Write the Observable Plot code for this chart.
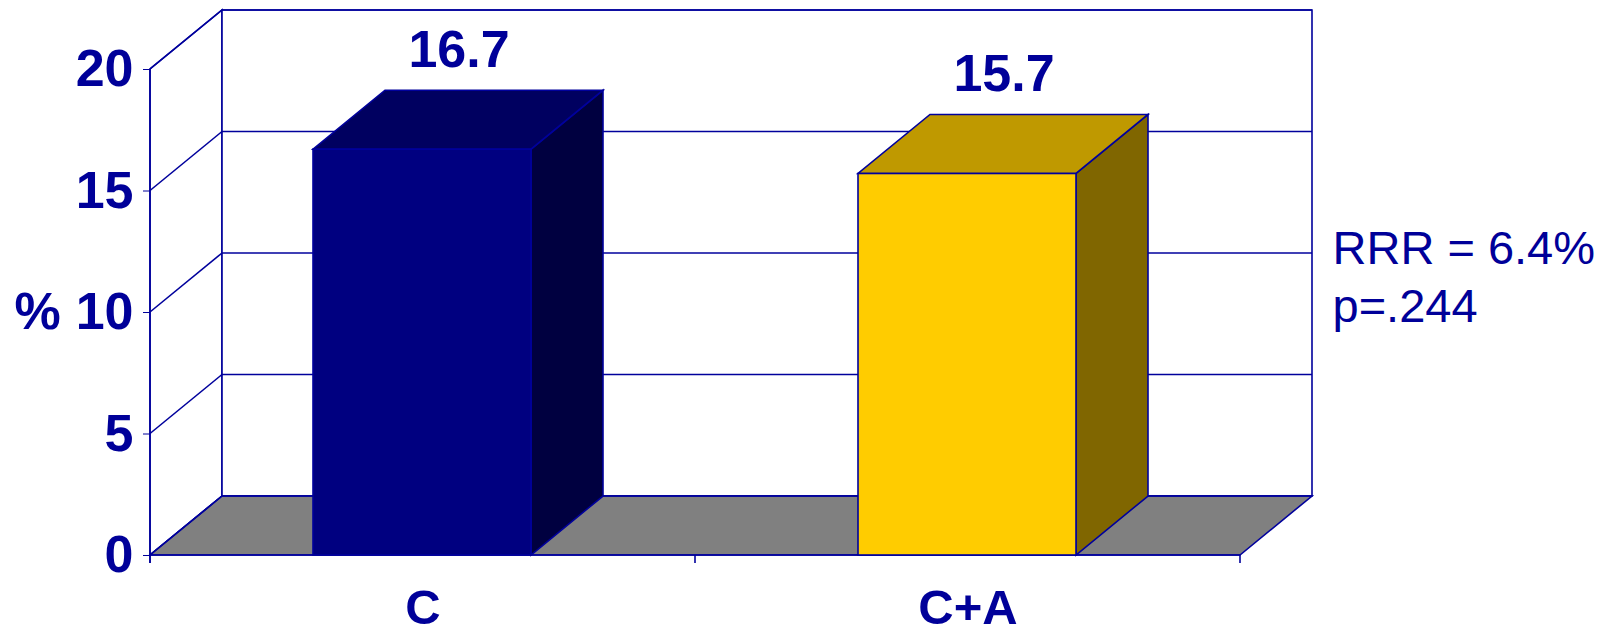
<!DOCTYPE html>
<html>
<head>
<meta charset="utf-8">
<script src="https://cdn.jsdelivr.net/npm/d3@7"></script>
<script src="https://cdn.jsdelivr.net/npm/@observablehq/plot@0.6"></script>
<style>
  html, body { margin: 0; padding: 0; background: #fff; }
  #chart { width: 1620px; height: 634px; }
</style>
</head>
<body>
<div id="chart"></div>
<script>
// ---- data ----
const categories = ["C", "C+A"];
const values = [16.7, 15.7];
const valueLabels = ["16.7", "15.7"];
const yTicks = [0, 5, 10, 15, 20];
const yAxisLabel = ["%"];
const annotation = ["RRR = 6.4%", "p=.244"];

const data = categories.map((c, i) => ({cat: c, value: values[i], label: valueLabels[i]}));

// ---- style ----
const INK = "#000099";
const LINE = "#00009C";
const LW = 1.6;
const DX = 72, DY = 59;          // 3D depth offset in pixels
const INSET_L = 163, INSET_R = 164;
const barColors = ["#000080", "#FFCC00"];
const FONT = "'Liberation Sans', Arial, Helvetica, sans-serif";

function shade(c, k) {
  const r = d3.rgb(c);
  return d3.rgb(r.r * k, r.g * k, r.b * k).formatHex();
}
function poly(g, pts, fill) {
  g.append("polygon")
    .attr("points", pts.map(p => p.join(",")).join(" "))
    .attr("fill", fill)
    .attr("stroke", LINE)
    .attr("stroke-width", LW)
    .attr("stroke-linejoin", "miter");
}
function seg(g, a, b) {
  g.append("line")
    .attr("x1", a[0]).attr("y1", a[1]).attr("x2", b[0]).attr("y2", b[1])
    .attr("stroke", LINE).attr("stroke-width", LW);
}

// walls, floor, gridlines and axis lines
const frameMark = (index, scales) => {
  const {x, y} = scales;
  const [x0, x1] = x.range();
  const y0 = y(0), yT = y(d3.max(yTicks));
  const g = d3.create("svg:g");
  poly(g, [[x0, y0], [x0, yT], [x0 + DX, yT - DY], [x0 + DX, y0 - DY]], "white");
  poly(g, [[x0 + DX, yT - DY], [x1 + DX, yT - DY], [x1 + DX, y0 - DY], [x0 + DX, y0 - DY]], "white");
  poly(g, [[x0, y0], [x1, y0], [x1 + DX, y0 - DY], [x0 + DX, y0 - DY]], "#808080");
  for (const t of yTicks) {
    const yy = y(t);
    seg(g, [x0, yy], [x0 + DX, yy - DY]);
    seg(g, [x0 + DX, yy - DY], [x1 + DX, yy - DY]);
  }
  seg(g, [x0, yT], [x0, y0 + 8]);
  seg(g, [x0, y0], [x1, y0]);
  const step = typeof x.step === "function" ? x.step() : (x1 - x0) / categories.length;
  for (let i = 0; i <= categories.length; ++i) {
    const xx = x0 + i * step;
    seg(g, [xx, y0], [xx, y0 + 8]);
  }
  return g.node();
};

// side and top faces of the bars
const depthMark = (index, scales) => {
  const {x, y, color} = scales;
  const bw = typeof x.bandwidth === "function" ? x.bandwidth() : x.bandwidth;
  const g = d3.create("svg:g");
  const y0 = y(0);
  for (const d of data) {
    const xl = x(d.cat) + INSET_L;
    const xr = x(d.cat) + bw - INSET_R;
    const yv = y(d.value);
    const c = color(d.cat);
    poly(g, [[xr, y0], [xr, yv], [xr + DX, yv - DY], [xr + DX, y0 - DY]], shade(c, 0.5));
    poly(g, [[xl, yv], [xr, yv], [xr + DX, yv - DY], [xl + DX, yv - DY]], shade(c, 0.75));
  }
  return g.node();
};

const chart = Plot.plot({
  width: 1620,
  height: 634,
  marginTop: 69,
  marginBottom: 79,
  marginLeft: 150,
  marginRight: 380,
  style: {
    fontFamily: FONT,
    fontSize: "52px",
    fontWeight: "bold",
    color: INK,
    background: "white",
    overflow: "visible"
  },
  x: {domain: categories, padding: 0, axis: null, label: null},
  y: {domain: [0, 20], ticks: yTicks, tickSize: 7, tickPadding: 10, label: null, tickFormat: d => String(d)},
  color: {domain: categories, range: barColors},
  marks: [
    frameMark,
    depthMark,
    Plot.barY(data, {
      x: "cat", y: "value", fill: "cat",
      stroke: LINE, strokeWidth: LW,
      insetLeft: INSET_L, insetRight: INSET_R
    }),
    Plot.text(data, {
      x: "cat", y: "value", text: "label",
      dx: DX / 2, dy: -83, lineAnchor: "bottom",
      fontSize: 52, fontWeight: "bold", fill: INK
    }),
    // category labels (x axis)
    Plot.text(categories, {
      x: d => d, text: d => d, frameAnchor: "bottom",
      lineAnchor: "bottom", dy: 68,
      fontSize: 49, fontWeight: "bold", fill: INK
    }),
    Plot.text(yAxisLabel, {
      y: () => 10, text: d => d, frameAnchor: "left",
      textAnchor: "start", dx: -136, lineAnchor: "middle",
      fontSize: 52, fontWeight: "bold", fill: INK
    }),
    Plot.text([annotation.join("\n")], {
      text: d => d, frameAnchor: "top-right",
      textAnchor: "start", lineAnchor: "bottom", lineHeight: 1.2426,
      dx: 92, dy: 252.7,
      fontSize: 47, fontWeight: "normal", fill: INK
    })
  ]
});

document.getElementById("chart").appendChild(chart);
</script>
</body>
</html>
